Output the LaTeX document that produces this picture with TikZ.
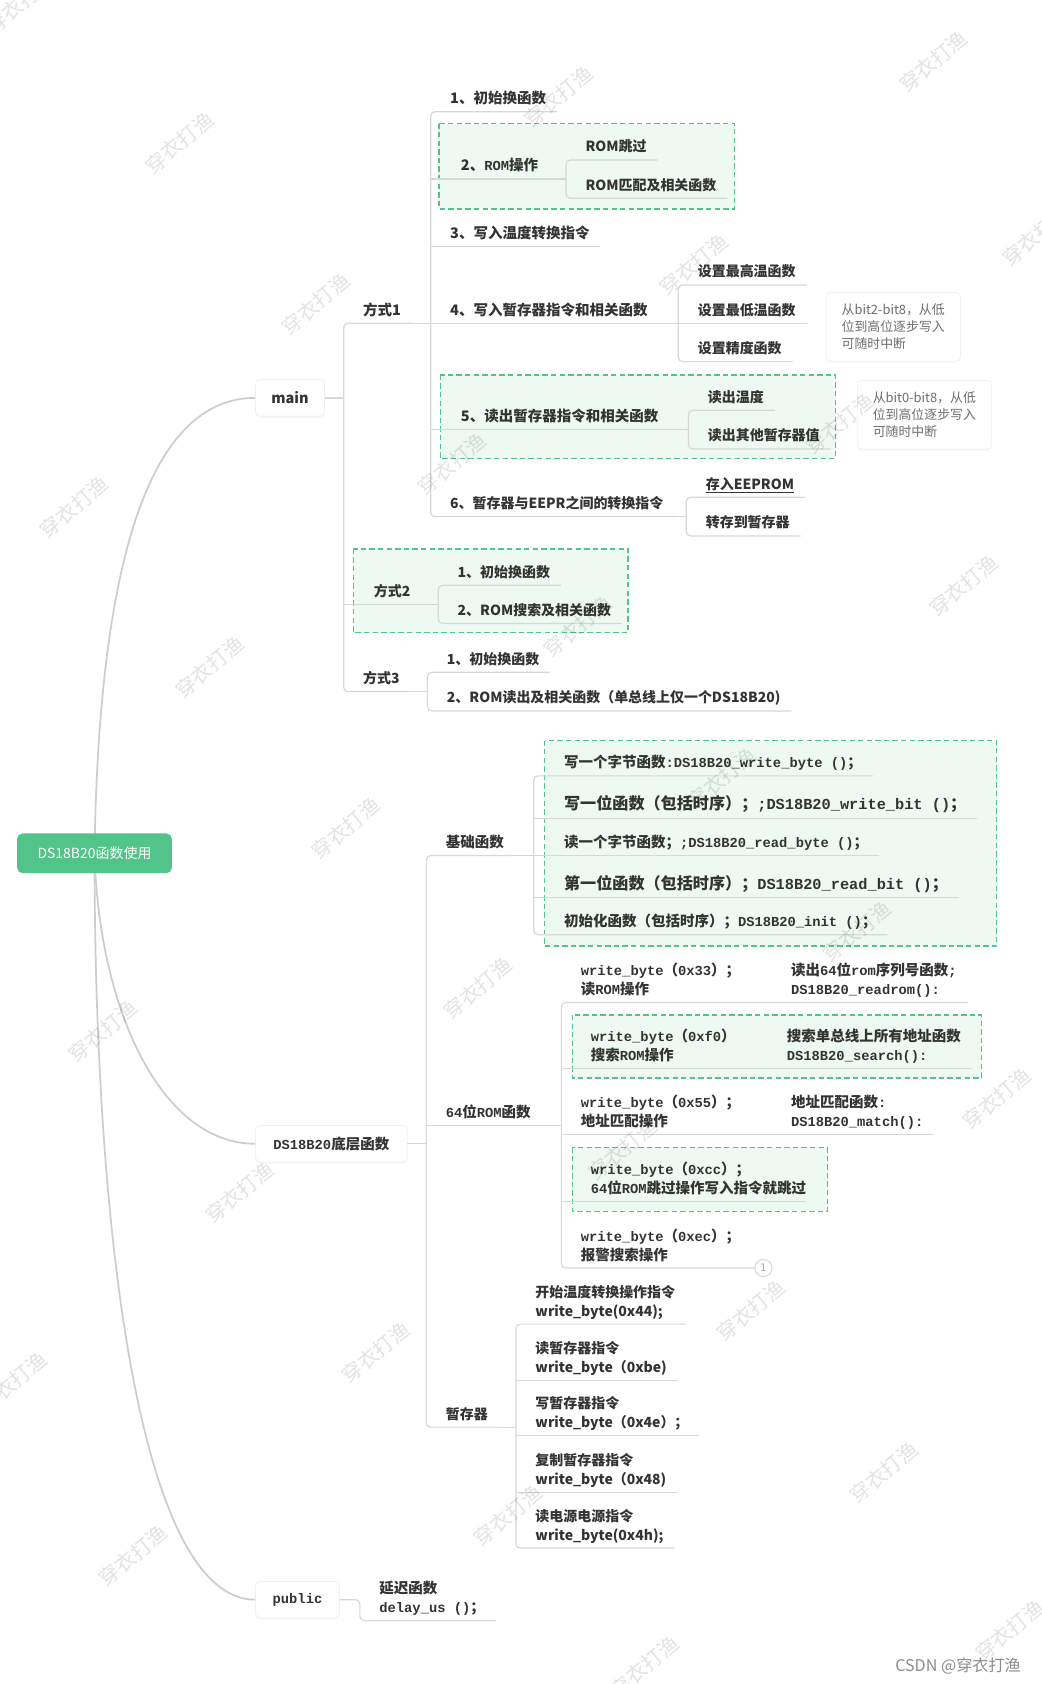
\documentclass[tikz,border=0pt]{standalone}
\usepackage{fontspec}
\setmainfont{Noto Sans CJK SC}
\newfontfamily\cdfont{Liberation Mono}[Scale=0.95]
\usetikzlibrary{backgrounds,shadows}

\definecolor{mmgreen}{RGB}{82,195,137}
\definecolor{mmpale}{RGB}{237,249,241}
\definecolor{mmline}{RGB}{216,216,216}
\definecolor{mmcurve}{RGB}{205,205,205}
\definecolor{mmtext}{RGB}{51,51,51}
\definecolor{mmnote}{RGB}{110,110,110}
\definecolor{mmbox}{RGB}{234,234,234}

\newcommand\cd[1]{{\cdfont #1}}
\newcommand\colA[2][195.7pt]{\makebox[#1][l]{#2}}
\newcommand\fsA{\fontsize{13.5}{16}\selectfont\bfseries}
\newcommand\fsB{\fontsize{13}{16}\selectfont\bfseries}
\newcommand\fsC{\fontsize{15}{17}\selectfont\bfseries}
\newcommand\tx[1]{\def\arraystretch{1.1}%
  \begin{tabular}{@{\hspace{\lpad}}l@{\hspace{\rpad}}}#1\end{tabular}}

\tikzset{
  lpad/.store in=\lpad, rpad/.store in=\rpad,
  lf/.style={anchor=south west, inner xsep=0pt, inner ysep=2pt,
    text=mmtext, font=\fsA, lpad=18pt, rpad=10pt},
  ln/.style={draw=mmline, line width=1.1pt},
  crv/.style={draw=mmcurve, line width=1.6pt},
  grp/.style={draw=mmgreen, fill=mmpale, line width=1.5pt, dash pattern=on 5pt off 3pt},
  hub/.style={draw=mmbox, fill=white, rounded corners=4pt, minimum height=34pt,
    text=mmtext, font=\fsA,
    drop shadow={shadow xshift=0pt, shadow yshift=-1.5pt, opacity=0.06}},
  note/.style={draw=mmbox, fill=white, rounded corners=4pt, anchor=north west,
    minimum width=125pt, minimum height=64pt, align=left, text=mmnote,
    font=\fontsize{12}{15.5}\selectfont,
    drop shadow={shadow xshift=0pt, shadow yshift=-1.5pt, opacity=0.05}},
  cnt/.style={circle, draw=mmline, line width=1pt, minimum size=16pt, inner sep=0pt,
    text=black!35, font=\fontsize{10}{10}\selectfont},
  wm/.style={text=black, text opacity=0.11, rotate=40, font=\fontsize{19}{19}\selectfont}
}

\begin{document}
\begin{tikzpicture}[x=1pt, y=-1pt]
\useasboundingbox (0,0) rectangle (970,1568);

% green group frames
\draw[grp] (409,115) rectangle (684,194.6);
\draw[grp] (410,349) rectangle (778,427);
\draw[grp] (329,511) rectangle (585,589);
\draw[grp] (507,689.5) rectangle (928,881);
\draw[grp] (533,945) rectangle (913.7,1003.8);
\draw[grp] (533,1068.4) rectangle (770.5,1128);

% top level
\node[fill=mmgreen, rounded corners=5pt, minimum width=144pt, minimum height=37pt,
  text=white, font=\fontsize{13}{15}\selectfont] (root) at (88,794.5) {DS18B20函数使用};
\node[hub, minimum width=64pt] (main) at (270,370.5) {main};
\node[hub, minimum width=141pt] (ds) at (308.5,1065) {\cd{DS18B20}底层函数};
\node[hub, minimum width=78pt, font=\fsA\cdfont] (pb) at (277,1489.5) {public};

% main
\node[lf] (fs1) at (320,301) {\tx{方式1}};
\node[lf, lpad=28pt, font=\fsB] (fs2) at (320,562.5) {\tx{方式2}};
\node[lf, font=\fsB] (fs3) at (320,644) {\tx{方式3}};

\node[lf] (a1) at (401,104) {\tx{1、初始换函数}};
\node[lf, lpad=28pt] (a2) at (401,166.7) {\tx{2、\cd{ROM}操作}};
\node[lf] (a3) at (401,229.6) {\tx{3、写入温度转换指令}};
\node[lf] (a4) at (401,301) {\tx{4、写入暂存器指令和相关函数}};
\node[lf, lpad=28pt] (a5) at (401,400) {\tx{5、读出暂存器指令和相关函数}};
\node[lf, font=\fsB] (a6) at (401,481) {\tx{6、暂存器与EEPR之间的转换指令}};

\node[lf, font=\fsB] (a21) at (527,149) {\tx{ROM跳过}};
\node[lf, font=\fsB] (a22) at (527,184.6) {\tx{ROM匹配及相关函数}};

\node[lf, font=\fsB] (a41) at (631.6,265.3) {\tx{设置最高温函数}};
\node[lf, font=\fsB] (a42) at (631.6,301) {\tx{设置最低温函数}};
\node[lf, font=\fsB] (a43) at (631.6,336.7) {\tx{设置精度函数}};
\node[note] (n1) at (769,272) {从bit2-bit8，从低\\位到高位逐步写入\\可随时中断};

\node[lf, font=\fsB] (a51) at (641,382) {\tx{读出温度}};
\node[lf, font=\fsB] (a52) at (641,418) {\tx{读出其他暂存器值}};
\node[note] (n2) at (798,354) {从bit0-bit8，从低\\位到高位逐步写入\\可随时中断};

\node[lf, font=\fsB] (a61) at (639,463) {\tx{\underline{存入EEPROM}}};
\node[lf, font=\fsB] (a62) at (639,499) {\tx{转存到暂存器}};

\node[lf, font=\fsB] (b1) at (408,545) {\tx{1、初始换函数}};
\node[lf, font=\fsB] (b2) at (408,580.5) {\tx{2、ROM搜索及相关函数}};

\node[lf, font=\fsB] (c1) at (398,626) {\tx{1、初始换函数}};
\node[lf, font=\fsB] (c2) at (398,662) {\tx{2、ROM读出及相关函数（单总线上仅一个DS18B20)}};

% DS18B20 low level
\node[lf] (d1) at (397,796.6) {\tx{基础函数}};
\node[lf] (d2) at (397,1048.2) {\tx{\cd{64}位\cd{ROM}函数}};
\node[lf, font=\fsB] (d3) at (397,1328.8) {\tx{暂存器}};

\node[lf, lpad=28pt] (d11) at (497,722.4) {\tx{写一个字节函数\cd{:DS18B20\_write\_byte ()}；}};
\node[lf, lpad=28pt, font=\fsC] (d12) at (497,761.8) {\tx{写一位函数（包括时序）；\cd{;DS18B20\_write\_bit ()}；}};
\node[lf, lpad=28pt] (d13) at (497,796.6) {\tx{读一个字节函数；\cd{;DS18B20\_read\_byte ()}；}};
\node[lf, lpad=28pt, font=\fsC] (d14) at (497,835.7) {\tx{第一位函数（包括时序）；\cd{DS18B20\_read\_bit ()}；}};
\node[lf, lpad=28pt] (d15) at (497,870.4) {\tx{初始化函数（包括时序）；\cd{DS18B20\_init ()}；}};

\node[lf] (d21) at (522.7,933.4) {\tx{\colA{\cd{write\_byte}（\cd{0x33}）；}读出\cd{64}位\cd{rom}序列号函数\cd{;}\\
  \colA{读\cd{ROM}操作}\cd{DS18B20\_readrom():}}};
\node[lf, lpad=27.3pt] (d22) at (522.7,995.2) {\tx{\colA[182.5pt]{\cd{write\_byte}（\cd{0xf0}）}搜索单总线上所有地址函数\\
  \colA[182.5pt]{搜索\cd{ROM}操作}\cd{DS18B20\_search():}}};
\node[lf] (d23) at (522.7,1056.6) {\tx{\colA{\cd{write\_byte}（\cd{0x55}）；}地址匹配函数\cd{:}\\
  \colA{地址匹配操作}\cd{DS18B20\_match():}}};
\node[lf, lpad=27.3pt, rpad=0pt] (d24) at (522.7,1118.7) {\tx{\cd{write\_byte}（\cd{0xcc}）；\\ \cd{64}位\cd{ROM}跳过操作写入指令就跳过}};
\node[lf, rpad=13pt] (d25) at (522.7,1180.7) {\tx{\cd{write\_byte}（\cd{0xec}）；\\ 报警搜索操作}};
\node[cnt, anchor=west] (k1) at (d25.south east) {1};

\node[lf, font=\fsB] (d31) at (480.4,1232.9) {\tx{开始温度转换操作指令\\ write\_byte(0x44);}};
\node[lf, font=\fsB] (d32) at (480.4,1285.3) {\tx{读暂存器指令\\ write\_byte（0xbe)}};
\node[lf, font=\fsB] (d33) at (480.4,1336.8) {\tx{写暂存器指令\\ write\_byte（0x4e）；}};
\node[lf, font=\fsB] (d34) at (480.4,1389.3) {\tx{复制暂存器指令\\ write\_byte（0x48)}};
\node[lf, font=\fsB] (d35) at (480.4,1441.4) {\tx{读电源电源指令\\ write\_byte(0x4h);}};

% public
\node[lf] (e1) at (335.1,1509) {\tx{延迟函数\\ \cd{delay\_us ()}；}};

% tree lines
\draw[ln] (main.east) -- (main.east -| fs1.south west);
\draw[ln, rounded corners=4pt] (fs1.south east) -- (fs1.south west) -- (fs3.south west) -- (fs3.south east);
\draw[ln] (fs2.south west) -- (fs2.south east);
\draw[ln] (fs1.south east) -- (fs1.south east -| a1.south west);
\draw[ln] (fs2.south east) -- (fs2.south east -| b1.south west);
\draw[ln] (fs3.south east) -- (fs3.south east -| c1.south west);

\draw[ln, rounded corners=4pt] (a1.south east) -- (a1.south west) -- (a6.south west) -- (a6.south east);
\foreach \n in {a2,a3,a4,a5}
  \draw[ln] (\n.south west) -- (\n.south east);
\draw[ln] (a2.south east) -- (a2.south east -| a21.south west);
\draw[ln, rounded corners=4pt] (a21.south east) -- (a21.south west) -- (a22.south west) -- (a22.south east);
\draw[ln] (a4.south east) -- (a4.south east -| a41.south west);
\draw[ln, rounded corners=4pt] (a41.south east) -- (a41.south west) -- (a43.south west) -- (a43.south east);
\draw[ln] (a42.south west) -- (a42.south east);
\draw[ln] (a5.south east) -- (a5.south east -| a51.south west);
\draw[ln, rounded corners=4pt] (a51.south east) -- (a51.south west) -- (a52.south west) -- (a52.south east);
\draw[ln] (a6.south east) -- (a6.south east -| a61.south west);
\draw[ln, rounded corners=4pt] (a61.south east) -- (a61.south west) -- (a62.south west) -- (a62.south east);
\draw[ln, rounded corners=4pt] (b1.south east) -- (b1.south west) -- (b2.south west) -- (b2.south east);
\draw[ln, rounded corners=4pt] (c1.south east) -- (c1.south west) -- (c2.south west) -- (c2.south east);

\draw[ln] (ds.east) -- (ds.east -| d1.south west);
\draw[ln, rounded corners=4pt] (d1.south east) -- (d1.south west) -- (d3.south west) -- (d3.south east);
\draw[ln] (d2.south west) -- (d2.south east);
\draw[ln] (d1.south east) -- (d1.south east -| d11.south west);
\draw[ln, rounded corners=4pt] (d11.south east) -- (d11.south west) -- (d15.south west) -- (d15.south east);
\foreach \n in {d12,d13,d14}
  \draw[ln] (\n.south west) -- (\n.south east);
\draw[ln] (d2.south east) -- (d2.south east -| d21.south west);
\draw[ln, rounded corners=4pt] (d21.south east) -- (d21.south west) -- (d25.south west) -- (d25.south east);
\foreach \n in {d22,d23,d24}
  \draw[ln] (\n.south west) -- (\n.south east);
\draw[ln] (d3.south east) -- (d3.south east -| d31.south west);
\draw[ln, rounded corners=4pt] (d31.south east) -- (d31.south west) -- (d35.south west) -- (d35.south east);
\foreach \n in {d32,d33,d34}
  \draw[ln] (\n.south west) -- (\n.south east);

\draw[ln, rounded corners=4pt] (pb.east) -- (pb.east -| e1.south west) -- (e1.south west) -- (e1.south east);

% curves from the root
\begin{scope}[on background layer]
\fill[white] (0,0) rectangle (970,1568);
\draw[crv] (root.center) .. controls (92,520) and (140,370.5) .. (main.west);
\draw[crv] (root.center) .. controls (92,940) and (150,1065) .. (ds.west);
\draw[crv] (root.center) .. controls (88,1150) and (130,1489.5) .. (pb.west);
\end{scope}

% watermarks
\foreach \wx/\wy [count=\k] in {167/133, 294/283, 520/90, 646/246, 869/57, 69/472,
    421/432, 782/394, 195/621, 538/583, 322/771, 897/545, 798/867, 96/960, 445/920,
    928/1023, 672/725, 580/1070, 223/1110, 699/1220, 350/1259, 823/1371, 473/1411,
    124/1448, 600/1552, 940/1518, 12/1287, 965/219, 19/3}
  \node[wm] (wm\k) at (\wx,\wy) {穿衣打渔};
\node[text=black!45, font=\fontsize{15}{15}\selectfont] (csdn) at (892,1551) {CSDN @穿衣打渔};
\end{tikzpicture}
\end{document}
